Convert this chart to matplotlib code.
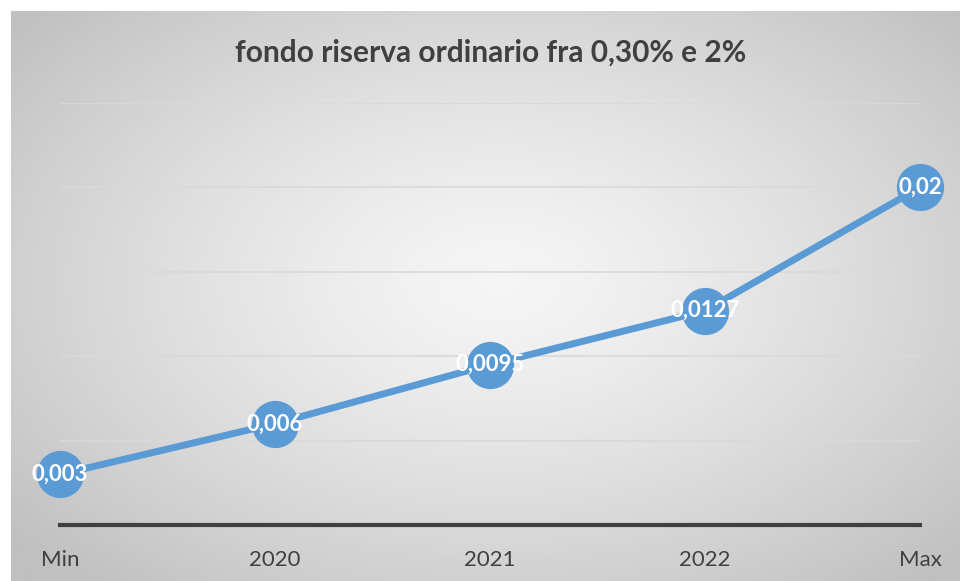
import numpy as np
import matplotlib.pyplot as plt

categories = ['Min', '2020', '2021', '2022', 'Max']
values = [0.003, 0.006, 0.0095, 0.0127, 0.02]
labels = ['0,003', '0,006', '0,0095', '0,0127', '0,02']
title = 'fondo riserva ordinario fra 0,30% e 2%'

plt.rcParams['font.family'] = ['Lato', 'DejaVu Sans']

W, H = 960, 581
fig = plt.figure(figsize=(W / 100, H / 100), dpi=100)
fig.patch.set_facecolor('white')

# radial gradient background box
bg = fig.add_axes([11 / W, 0, (W - 11) / W, (H - 11) / H])
bg.set_axis_off()
xx, yy = np.meshgrid(np.linspace(-1, 1, 400), np.linspace(-1, 1, 240))
r = np.sqrt(((xx - 0.03) / 1.0) ** 2 + ((yy + 0.05) / 1.05) ** 2)
r = np.clip(r / 1.35, 0, 1)
shade = 0.96 - 0.21 * r ** 1.3
bg.imshow(shade, cmap='gray', vmin=0, vmax=1, aspect='auto', extent=[0, 1, 0, 1], interpolation='bilinear')
bg.set_xlim(0, 1)
bg.set_ylim(0, 1)

ax = fig.add_axes([60 / W, (H - 525) / H, 860 / W, (525 - 103) / H])
ax.patch.set_alpha(0)
x = np.arange(len(categories))
ax.set_xlim(0, len(categories) - 1)
ax.set_ylim(0, 0.025)
ax.set_yticks(np.arange(0.005, 0.0251, 0.005))
ax.grid(axis='y', color='#d9d9d9', linewidth=1.2)
ax.set_axisbelow(True)
for s in ['top', 'left', 'right']:
    ax.spines[s].set_visible(False)
ax.spines['bottom'].set_color('#404040')
ax.spines['bottom'].set_linewidth(3)
ax.tick_params(axis='y', left=False, labelleft=False)
ax.tick_params(axis='x', length=0, pad=18, labelsize=16, labelcolor='#404040')
ax.set_xticks(x)
ax.set_xticklabels(categories)

ax.plot(x, values, color='#5b9bd5', linewidth=5, marker='o', markersize=33,
        markerfacecolor='#5b9bd5', markeredgecolor='#5b9bd5', clip_on=False, zorder=3)
for xi, v, lab in zip(x, values, labels):
    ax.text(xi, v, lab, ha='center', va='center', color='white', fontsize=16,
            fontweight='bold', zorder=4)

fig.text(491 / W, 1 - 53 / H, title, ha='center', va='center', fontsize=21.5,
         fontweight='bold', color='#404040')

fig.savefig('out.png', dpi=100)
